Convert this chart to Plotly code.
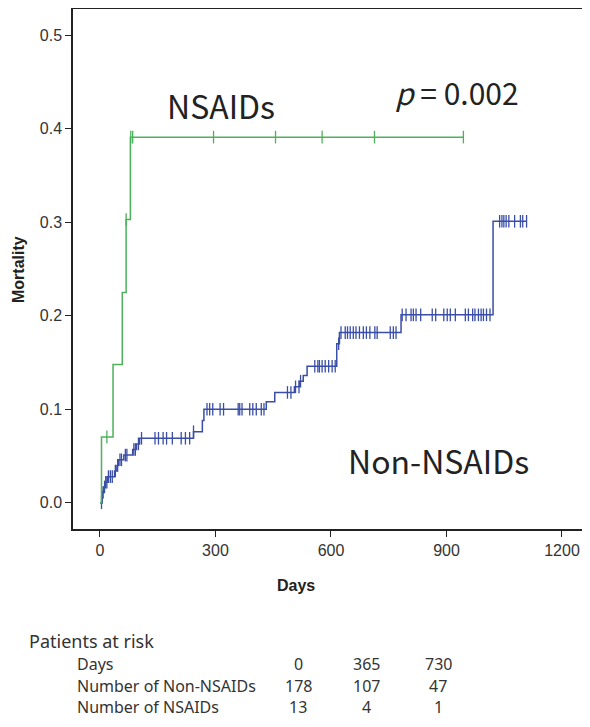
import numpy as np
import plotly.graph_objects as go

# ---------------- data ----------------
# Non-NSAIDs Kaplan-Meier cumulative mortality (step start days / level after step)
non_step_days = [0, 5, 7, 10, 14, 20, 38, 44, 48, 62, 85, 95, 103, 243, 266, 270,
                 432, 454, 505, 518, 528, 538, 615, 622, 782, 1021]
non_step_mort = [0.0, 0.006, 0.011, 0.017, 0.022, 0.028, 0.034, 0.040, 0.046, 0.051,
                 0.057, 0.063, 0.069, 0.076, 0.088, 0.100, 0.108, 0.118, 0.124, 0.130,
                 0.136, 0.146, 0.170, 0.182, 0.201, 0.301]
non_end_day = 1108
non_censor_days = [4, 5, 6, 8, 12, 15, 18, 22, 27, 32, 40, 46, 52, 56, 66, 70, 88, 92, 100,
                   108, 143, 152, 164, 173, 188, 211, 222, 233, 243,
                   278, 285, 293, 312, 321, 359, 363, 369, 389, 397, 406, 419, 426,
                   487, 496, 508, 517, 521,
                   558, 566, 570, 577, 585, 594, 603, 611, 620,
                   626, 637, 643, 650, 658, 665, 674, 684, 692, 701, 714, 720, 754, 762, 769,
                   785, 795, 808, 814, 821, 833, 863, 872, 893, 902, 910, 923, 949, 957,
                   968, 974, 983, 990, 996, 1004, 1013,
                   1038, 1044, 1049, 1055, 1062, 1077, 1092, 1098, 1108]

# NSAIDs Kaplan-Meier cumulative mortality
nsaid_step_days = [0, 4, 34, 58, 68, 79]
nsaid_step_mort = [0.0, 0.0705, 0.148, 0.225, 0.303, 0.391]
nsaid_end_day = 944
nsaid_censor_days = [18, 68, 80, 85, 295, 456, 577, 713, 944]

# tick labels
x_ticks = [0, 300, 600, 900, 1200]
y_ticks = [0.0, 0.1, 0.2, 0.3, 0.4, 0.5]

# patients at risk table
risk_days = ["0", "365", "730"]
risk_non = ["178", "107", "47"]
risk_nsaid = ["13", "4", "1"]

BLUE = "#3a4ea7"
GREEN = "#4cb15a"


def step_level(days, morts, t):
    idx = np.searchsorted(np.array(days), np.array(t), side="right") - 1
    return list(np.array(morts)[idx])


fig = go.Figure()

for days, morts, end, cens, col, name in [
    (non_step_days, non_step_mort, non_end_day, non_censor_days, BLUE, "Non-NSAIDs"),
    (nsaid_step_days, nsaid_step_mort, nsaid_end_day, nsaid_censor_days, GREEN, "NSAIDs"),
]:
    fig.add_trace(go.Scatter(
        x=days + [end], y=morts + [morts[-1]], mode="lines",
        line=dict(color=col, width=1.5, shape="hv"), name=name, showlegend=False,
        hoverinfo="skip"))
    fig.add_trace(go.Scatter(
        x=cens, y=step_level(days, morts, cens), mode="markers",
        marker=dict(symbol="line-ns", size=9, line=dict(color=col, width=1.3)),
        showlegend=False, hoverinfo="skip"))

# layout geometry (pixels); page body adds an 8px margin on every side
OFF = 8
W, H = 590 - 2 * OFF, 727 - 2 * OFF
L, T, R = 73 - OFF, 9 - OFF, 0
B = H - (529 - OFF)
PH = H - T - B


def py(p):
    return (H - B - (p - OFF)) / PH


def px(p):
    return ((p - OFF) - L) / (W - L - R)


axis_font = dict(family="Liberation Sans, Arial", size=16, color="#333333")

fig.update_layout(
    width=W, height=H,
    margin=dict(l=L, r=R, t=T, b=B),
    paper_bgcolor="white", plot_bgcolor="white",
    xaxis=dict(range=[-70, 1252], tickvals=x_ticks, ticktext=[str(v) for v in x_ticks],
               ticks="outside", ticklen=6, tickwidth=1.3, tickcolor="#222",
               ticklabeloverflow="allow",
               showline=True, linecolor="#222", linewidth=1.5, mirror=True,
               showgrid=False, zeroline=False, tickfont=axis_font),
    yaxis=dict(range=[-0.028, 0.528], tickvals=y_ticks, tickformat=".1f",
               ticks="outside", ticklen=6, tickwidth=1.3, tickcolor="#222",
               showline=True, linecolor="#222", linewidth=1.5,
               showgrid=False, zeroline=False, tickfont=axis_font),
)

ann = []


def add(text, x, y, font, xanchor="center", textangle=0):
    ann.append(dict(text=text, x=x, y=y, xref="paper", yref="paper",
                    xanchor=xanchor, yanchor="middle", showarrow=False,
                    textangle=textangle, font=font))


# axis titles
add("<b>Days</b>", px(296), py(585), dict(family="Liberation Sans, Arial", size=16, color="#222"))
add("<b>Mortality</b>", px(18), py(270), dict(family="Liberation Sans, Arial", size=16, color="#222"),
    textangle=-90)

big = dict(family="Noto Sans CJK JP", size=32, color="#222222")
ann.append(dict(text="NSAIDs", x=315, y=0.425, xref="x", yref="y", showarrow=False,
                xanchor="center", yanchor="middle", font=big))
ann.append(dict(text="Non-NSAIDs", x=880, y=0.046, xref="x", yref="y", showarrow=False,
                xanchor="center", yanchor="middle", font=big))
add("<i>p</i> = 0.002", px(457), py(92), dict(family="Noto Sans CJK JP", size=30, color="#222222"))

tab = dict(family="Noto Sans", size=16, color="#333333")
add("Patients at risk", px(27), py(641), dict(family="Noto Sans", size=18, color="#333333"),
    xanchor="left")
row_y = [664, 686, 707]
row_labels = ["Days", "Number of Non-NSAIDs", "Number of NSAIDs"]
col_x = [298, 366, 438]
for lab, yy, vals in zip(row_labels, row_y, [risk_days, risk_non, risk_nsaid]):
    add(lab, px(75), py(yy), tab, xanchor="left")
    for v, xx in zip(vals, col_x):
        add(v, px(xx), py(yy), tab)

fig.update_layout(annotations=ann)
fig.write_html("out.html")
